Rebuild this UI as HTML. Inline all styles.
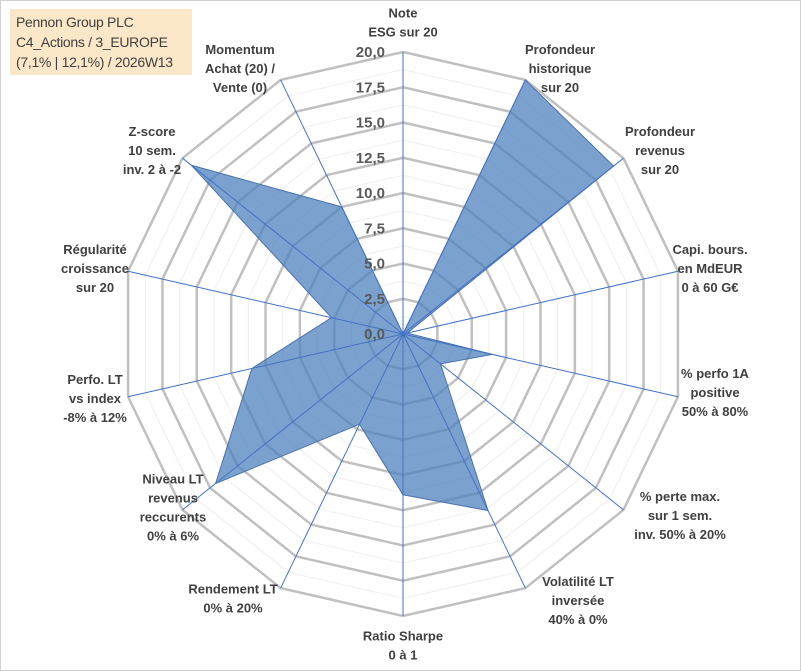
<!DOCTYPE html>
<html><head><meta charset="utf-8"><style>
html,body{margin:0;padding:0;background:#fff}
body{width:801px;height:671px;overflow:hidden;font-family:"Liberation Sans",sans-serif}
#frame{position:absolute;left:0;top:0;width:799px;height:669px;border:1px solid #d0d0d0}
#title{position:absolute;left:10px;top:9px;width:182px;height:66px;background:#fce7c8;color:#404040;font-size:14px;letter-spacing:-0.3px;line-height:20px;padding:3px 0 0 6px;box-sizing:border-box;white-space:nowrap}
</style></head><body>
<div id="frame"></div>
<div id="title">Pennon Group PLC<br>C4_Actions / 3_EUROPE<br>(7,1% | 12,1%) / 2026W13</div>
<svg id="chart" width="801" height="671" style="position:absolute;left:0;top:0"></svg>
<script>
const categories=[["Note","ESG sur 20"],["Profondeur","historique","sur 20"],["Profondeur","revenus","sur 20"],["Capi. bours.","en MdEUR","0 à 60 G€"],["% perfo 1A","positive","50% à 80%"],["% perte max.","sur 1 sem.","inv. 50% à 20%"],["Volatilité LT","inversée","40% à 0%"],["Ratio Sharpe","0 à 1"],["Rendement LT","0% à 20%"],["Niveau LT","revenus","reccurents","0% à 6%"],["Perfo. LT","vs index","-8% à 12%"],["Régularité","croissance","sur 20"],["Z-score","10 sem.","inv. 2 à -2"],["Momentum","Achat (20) /","Vente (0)"]];
const values=[0,20,19.1,0.3,6.5,3.4,13.9,11.4,7.1,17,11,5.2,19.2,10];
const ticks=["0,0","2,5","5,0","7,5","10,0","12,5","15,0","17,5","20,0"];
const labelPos=[[403,22],[560,68],[660,150],[710,268],[715,392],[680,515],[578,600],[403,645],[233,598],[173,507],[95,398],[95,268],[152,150],[240,68]];
const cx=403,cy=334,R=282,maxV=20;
const svg=document.getElementById('chart');
const NS='http://www.w3.org/2000/svg';
const N=categories.length;
function pt(i,v){const a=i*2*Math.PI/N;const r=v/maxV*R;return [cx+r*Math.sin(a),cy-r*Math.cos(a)];}
function mk(t,attrs){const e=document.createElementNS(NS,t);for(const k in attrs)e.setAttribute(k,attrs[k]);svg.appendChild(e);return e;}
for(let k=1;k<=16;k++){const v=k*1.25;const p=[];for(let i=0;i<N;i++)p.push(pt(i,v).join(','));
const g=mk('polygon',{points:p.join(' '),fill:'none',stroke:k%2==0?'#c0c0c0':'#eeeeee','stroke-width':k%2==0?2.5:1});

}
const sp=values.map((v,i)=>pt(i,v).join(',')).join(' ');
const s=mk('polygon',{points:sp,fill:'#4f81bd','fill-opacity':0.75,stroke:'#4a72b0','stroke-width':1});


for(let i=0;i<N;i++){const e=pt(i,maxV);const l=mk('line',{x1:cx,y1:cy,x2:e[0],y2:e[1],stroke:'#4472c4','stroke-width':1});

}
ticks.forEach((t,k)=>{const y=cy-k*2.5/maxV*R;const tx=mk('text',{x:385,y:y+5,'text-anchor':'end','font-size':15,'font-weight':'bold',fill:'#595959'});tx.textContent=t;

});
categories.forEach((c,i)=>{const [x,y]=labelPos[i];const lh=19;const y0=y-(c.length-1)*lh/2;
const tx=mk('text',{x:x,y:y0+5,'text-anchor':'middle','font-size':13,'font-weight':'bold',fill:'#404040'});


c.forEach((ln,j)=>{const ts=document.createElementNS(NS,'tspan');ts.setAttribute('x',x);ts.setAttribute('y',y0+5+j*lh);ts.textContent=ln;tx.appendChild(ts);});});
</script>
</body></html>
